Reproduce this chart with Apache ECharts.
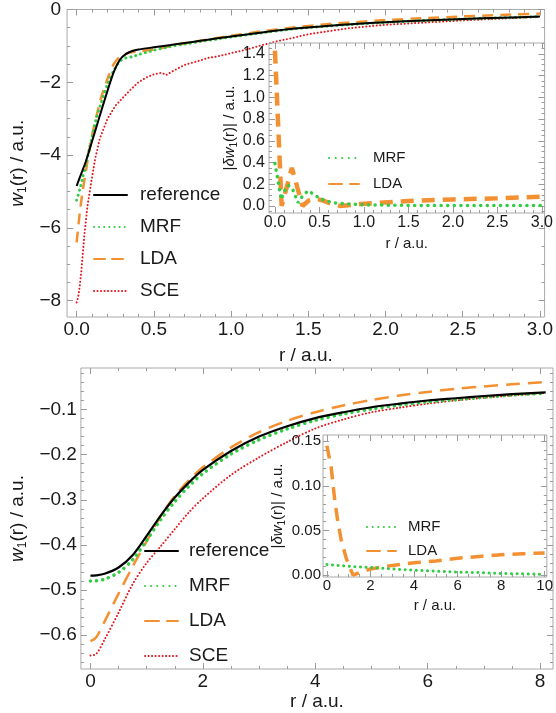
<!DOCTYPE html>
<html><head><meta charset="utf-8">
<script src="https://cdn.jsdelivr.net/npm/echarts@6/dist/echarts.min.js"></script>
<style>html,body{margin:0;padding:0;background:#fff}#c{width:556px;height:713px}</style>
</head><body><div id="c"></div>
<script>
// ---------- data: top panel (main) ----------
const rTop = [0, 0.02, 0.04, 0.06, 0.08, 0.1, 0.13, 0.16, 0.2, 0.24, 0.28, 0.32, 0.36, 0.4, 0.5, 0.6, 0.7, 0.8, 0.9, 1.0, 1.2, 1.4, 1.6, 1.8, 2.0, 2.25, 2.5, 2.75, 3.0];
const refTop = [-4.85, -4.62, -4.4, -4.17, -3.9, -3.62, -3.2, -2.78, -2.23, -1.72, -1.38, -1.22, -1.14, -1.1, -1.04, -0.98, -0.92, -0.86, -0.8, -0.74, -0.63, -0.53, -0.46, -0.4, -0.35, -0.3, -0.26, -0.225, -0.195];
const mrfTop = [-5.24, -4.95, -4.6, -4.25, -3.88, -3.5, -2.95, -2.55, -2.05, -1.68, -1.42, -1.33, -1.3, -1.24, -1.12, -1.02, -0.95, -0.88, -0.82, -0.755, -0.64, -0.535, -0.465, -0.405, -0.355, -0.304, -0.264, -0.229, -0.199];
const ldaTop = [-6.4, -5.6, -4.95, -4.45, -3.9, -3.45, -2.9, -2.4, -1.9, -1.5, -1.3, -1.22, -1.17, -1.15, -1.1, -1.01, -0.93, -0.86, -0.79, -0.72, -0.6, -0.495, -0.41, -0.35, -0.29, -0.24, -0.19, -0.15, -0.11];
const rTopSce = [0, 0.01, 0.02, 0.03, 0.04, 0.05, 0.07, 0.1, 0.12, 0.15, 0.2, 0.25, 0.3, 0.35, 0.4, 0.45, 0.5, 0.55, 0.58, 0.62, 0.7, 0.8, 0.85, 0.9, 1.0, 1.1, 1.2, 1.3, 1.4, 1.5, 1.75, 2.0, 2.5, 3.0];
const sceTop = [-8.05, -7.9, -7.6, -7.2, -6.7, -6.2, -5.4, -4.6, -4.1, -3.55, -3.0, -2.65, -2.42, -2.2, -2.0, -1.87, -1.78, -1.74, -1.8, -1.7, -1.52, -1.4, -1.33, -1.3, -1.2, -1.1, -0.98, -0.87, -0.78, -0.68, -0.52, -0.42, -0.3, -0.2];
// ---------- data: top panel (inset, |delta w1|) ----------
const rInsTopLda = [0, 0.075, 0.19, 0.31, 0.38, 0.45, 0.52, 0.6, 0.73, 1.0, 1.5, 2.0, 2.5, 3.0];
const ldaErrTop = [1.43, 0.0, 0.35, 0.0, 0.05, 0.065, 0.055, 0.03, 0.0, 0.02, 0.045, 0.06, 0.07, 0.085];
const rInsTopMrf = [0, 0.03, 0.07, 0.1, 0.15, 0.2, 0.26, 0.3, 0.37, 0.45, 0.5, 0.6, 0.7, 0.8, 1.0, 1.5, 2.0, 3.0];
const mrfErrTop = [0.39, 0.25, 0.06, 0.13, 0.19, 0.15, 0.03, 0.08, 0.14, 0.1, 0.07, 0.04, 0.025, 0.02, 0.01, 0.005, 0.004, 0.003];
// ---------- data: bottom panel (main) ----------
const rBot = [0, 0.1, 0.25, 0.5, 0.75, 1.0, 1.25, 1.5, 1.75, 2.0, 2.5, 3.0, 3.5, 4.0, 4.5, 5.0, 5.5, 6.0, 6.5, 7.0, 7.5, 8.1];
const refBot = [-0.468, -0.4675, -0.464, -0.45, -0.423, -0.38, -0.335, -0.295, -0.262, -0.234, -0.192, -0.16, -0.137, -0.119, -0.106, -0.095, -0.087, -0.08, -0.075, -0.07, -0.066, -0.062];
const mrfBot = [-0.48, -0.4795, -0.476, -0.461, -0.433, -0.39, -0.344, -0.304, -0.27, -0.242, -0.199, -0.167, -0.143, -0.124, -0.11, -0.099, -0.09, -0.083, -0.078, -0.073, -0.068, -0.064];
const ldaBot = [-0.613, -0.605, -0.57, -0.508, -0.448, -0.392, -0.336, -0.292, -0.257, -0.228, -0.184, -0.15, -0.125, -0.106, -0.091, -0.079, -0.069, -0.061, -0.054, -0.049, -0.044, -0.039];
const sceBot = [-0.645, -0.642, -0.61, -0.55, -0.487, -0.44, -0.403, -0.365, -0.328, -0.297, -0.245, -0.206, -0.172, -0.142, -0.122, -0.106, -0.096, -0.087, -0.08, -0.074, -0.069, -0.063];
// ---------- data: bottom panel (inset) ----------
const rInsBotLda = [0, 0.2, 0.36, 0.5, 0.66, 0.9, 1.2, 1.5, 2, 3, 4, 5, 6, 7, 8, 9, 10];
const ldaErrBot = [0.145, 0.12, 0.084, 0.06, 0.039, 0.018, 0.0, 0.003, 0.007, 0.011, 0.014, 0.016, 0.019, 0.021, 0.023, 0.024, 0.025];
const rInsBotMrf = [0, 1, 2, 3, 4, 5, 6, 7, 8, 9, 10];
const mrfErrBot = [0.012, 0.01, 0.0086, 0.007, 0.0056, 0.0045, 0.0035, 0.003, 0.002, 0.0015, 0.001];
// ---------- tick labels ----------
const topXTicks = [0, 0.5, 1.0, 1.5, 2.0, 2.5, 3.0];
const topYTicks = [-8, -6, -4, -2, 0];
const insTopXTicks = [0, 0.5, 1.0, 1.5, 2.0, 2.5, 3.0];
const insTopYTicks = [0, 0.2, 0.4, 0.6, 0.8, 1.0, 1.2, 1.4];
const botXTicks = [0, 2, 4, 6, 8];
const botYTicks = [-0.6, -0.5, -0.4, -0.3, -0.2, -0.1];
const insBotXTicks = [0, 2, 4, 6, 8, 10];
const insBotYTicks = [0, 0.05, 0.10, 0.15];

const FF = "'Liberation Sans', Arial, Helvetica, sans-serif";
const C = {ref:'#000000', mrf:'#33cc44', lda:'#f39132', sce:'#e3181f'};

function minorTicks(lo, hi, step) {
  const out = [];
  const n0 = Math.ceil(lo / step - 1e-9), n1 = Math.floor(hi / step + 1e-9);
  for (let k = n0; k <= n1; k++) out.push(+(k * step).toFixed(6));
  return out;
}
function fmt(d) { return v => (v < -1e-12 ? '\u2212' : '') + Math.abs(v).toFixed(d); }
function zip(x, y) { return x.map((v, i) => [v, y[i]]); }

function frameAxes(dim, grid, o) {
  const pos = dim === 'x' ? ['bottom', 'top'] : ['left', 'right'];
  const minors = minorTicks(o.min, o.max, o.minorStep);
  const arr = [];
  pos.forEach((p, k) => {
    [true, false].forEach(isMajor => {
      const ax = {
        type: 'value', gridIndex: grid, position: p, min: o.min, max: o.max, z: o.z,
        axisLine: {show: false, onZero: false},
        splitLine: {show: false},
        axisTick: {show: true, inside: true, length: isMajor ? 6 : 3,
          customValues: isMajor ? o.major : minors, lineStyle: {color: '#9a9a9a', width: 1}},
        axisLabel: {show: k === 0 && isMajor, customValues: o.major, formatter: o.fmt,
          fontSize: o.fs, color: '#1a1a1a', margin: o.margin, fontFamily: FF},
        silent: true
      };
      if (k === 0 && isMajor && o.name) {
        ax.name = o.name; ax.nameLocation = 'middle'; ax.nameGap = o.nameGap;
        ax.nameTextStyle = {fontSize: o.nfs, fontFamily: FF, color: '#1a1a1a', rich: o.rich || {}};
      }
      arr.push(ax);
    });
  });
  return arr;
}

const richMain = {
  i: {fontStyle: 'italic', fontSize: 19, fontFamily: FF, color: '#1a1a1a', lineHeight: 22},
  s: {fontSize: 12, fontFamily: FF, color: '#1a1a1a', lineHeight: 13, verticalAlign: 'bottom'},
  n: {fontSize: 19, fontFamily: FF, color: '#1a1a1a', lineHeight: 22}
};
const richIns = {
  i: {fontStyle: 'italic', fontSize: 15, fontFamily: FF, color: '#1a1a1a', lineHeight: 18},
  s: {fontSize: 10, fontFamily: FF, color: '#1a1a1a', lineHeight: 10, verticalAlign: 'bottom'},
  n: {fontSize: 15, fontFamily: FF, color: '#1a1a1a', lineHeight: 18}
};

const xAxes = [].concat(
  frameAxes('x', 0, {min: -0.062, max: 3.03, major: topXTicks, minorStep: 0.1, fmt: fmt(1), fs: 19, margin: 3, name: 'r / a.u.', nameGap: 29, nfs: 19, z: 0}),
  frameAxes('x', 1, {min: -0.067, max: 3.03, major: insTopXTicks, minorStep: 0.1, fmt: fmt(1), fs: 16, margin: 2, name: 'r / a.u.', nameGap: 23, nfs: 15, z: 6}),
  frameAxes('x', 2, {min: -0.17, max: 8.23, major: botXTicks, minorStep: 0.5, fmt: fmt(0), fs: 19, margin: 3, name: 'r / a.u.', nameGap: 21, nfs: 19, z: 0}),
  frameAxes('x', 3, {min: -0.18, max: 10.1, major: insBotXTicks, minorStep: 0.5, fmt: fmt(0), fs: 15, margin: 1, name: 'r / a.u.', nameGap: 21, nfs: 15, z: 6})
);
const yAxes = [].concat(
  frameAxes('y', 0, {min: -8.45, max: 0, major: topYTicks, minorStep: 0.5, fmt: fmt(0), fs: 19, margin: 6, name: '{i|w}{s|1}{n|(r) / a.u.}', nameGap: 34, nfs: 19, rich: richMain, z: 0}),
  frameAxes('y', 1, {min: -0.065, max: 1.5, major: insTopYTicks, minorStep: 0.05, fmt: fmt(1), fs: 16, margin: 4, name: '{n||}{i|\u03b4w}{s|1}{n|(r)| / a.u.}', nameGap: 25, nfs: 15, rich: richIns, z: 6}),
  frameAxes('y', 2, {min: -0.675, max: -0.008, major: botYTicks, minorStep: 0.02, fmt: fmt(1), fs: 19, margin: 4, name: '{i|w}{s|1}{n|(r) / a.u.}', nameGap: 50, nfs: 19, rich: richMain, z: 0}),
  frameAxes('y', 3, {min: -0.002, max: 0.157, major: insBotYTicks, minorStep: 0.01, fmt: fmt(2), fs: 15, margin: 2, name: '{n||}{i|\u03b4w}{s|1}{n|(r)| / a.u.}', nameGap: 36, nfs: 15, rich: richIns, z: 6})
);

function line(name, g, data, color, width, dash, z, smooth, round) {
  return {
    type: 'line', name: name, xAxisIndex: 4 * g, yAxisIndex: 4 * g, data: data,
    symbol: 'none', showSymbol: false, smooth: smooth, z: z, clip: true,
    color: color, itemStyle: {color: color},
    lineStyle: {color: color, width: width, type: dash, cap: round ? 'round' : 'butt'},
    emphasis: {disabled: true}, silent: true
  };
}

const series = [
  // top main
  line('SCE', 0, zip(rTopSce, sceTop), C.sce, 2, [0.1, 3.4], 2, false, true),
  line('LDA', 0, zip(rTop, ldaTop), C.lda, 2.5, [11, 7], 2, 0.2, false),
  line('MRF', 0, zip(rTop, mrfTop), C.mrf, 3, [0.1, 5], 2, 0.2, true),
  line('reference', 0, zip(rTop, refTop), C.ref, 2, 'solid', 3, 0.2, false),
  // top inset
  line('LDA ', 1, zip(rInsTopLda, ldaErrTop), C.lda, 4.5, [13, 8], 8, false, false),
  line('MRF ', 1, zip(rInsTopMrf, mrfErrTop), C.mrf, 3.5, [0.1, 6.5], 8, false, true),
  // bottom main
  line('SCE  ', 2, zip(rBot, sceBot), C.sce, 2, [0.1, 3.4], 2, 0.3, true),
  line('LDA  ', 2, zip(rBot, ldaBot), C.lda, 2.5, [14, 8], 2, 0.3, false),
  line('MRF  ', 2, zip(rBot, mrfBot), C.mrf, 3.5, [0.1, 6], 2, 0.3, true),
  line('reference  ', 2, zip(rBot, refBot), C.ref, 2.2, 'solid', 3, 0.3, false),
  // bottom inset
  line('LDA   ', 3, zip(rInsBotLda, ldaErrBot), C.lda, 3.5, [13, 8], 8, false, false),
  line('MRF   ', 3, zip(rInsBotMrf, mrfErrBot), C.mrf, 3, [0.1, 5.5], 8, false, true)
];

function legend(names, left, top, fs, gap, w, pad, z) {
  return {
    show: true, orient: 'vertical', left: left, top: top, padding: 0, z: z,
    itemWidth: w, itemHeight: 12, itemGap: gap, selectedMode: false,
    data: names, formatter: n => n.trim(),
    itemStyle: {opacity: 0, borderWidth: 0},
    lineStyle: {cap: 'round'},
    textStyle: {fontSize: fs, fontFamily: FF, color: '#1a1a1a', lineHeight: fs + 1, padding: [0, 0, 0, pad]}
  };
}

const option = {
  animation: false,
  backgroundColor: '#ffffff',
  grid: [
    {left: 50, top: 8, width: 498, height: 309, show: true, borderColor: '#aaaaaa', borderWidth: 1, backgroundColor: 'transparent', z: 0},
    {left: 269, top: 43, width: 277, height: 170, show: true, borderColor: '#aaaaaa', borderWidth: 1, backgroundColor: '#ffffff', z: 5},
    {left: 67, top: 368, width: 486, height: 301, show: true, borderColor: '#aaaaaa', borderWidth: 1, backgroundColor: 'transparent', z: 0},
    {left: 323, top: 435, width: 227, height: 142, show: true, borderColor: '#aaaaaa', borderWidth: 1, backgroundColor: '#ffffff', z: 5}
  ],
  xAxis: xAxes,
  yAxis: yAxes,
  legend: [
    legend(['reference', 'MRF', 'LDA', 'SCE'], 93, 185, 19, 12, 33, 8, 4),
    legend(['MRF ', 'LDA '], 328, 150, 15, 10, 30, 9, 9),
    legend(['reference  ', 'MRF  ', 'LDA  ', 'SCE  '], 144, 541, 19, 15, 33, 6, 4),
    legend(['MRF   ', 'LDA   '], 366, 519, 15, 8, 29, 7, 9)
  ],
  series: series
};

const chart = echarts.init(document.getElementById('c'), null, {renderer: 'canvas'});
chart.setOption(option);
</script>
</body></html>
